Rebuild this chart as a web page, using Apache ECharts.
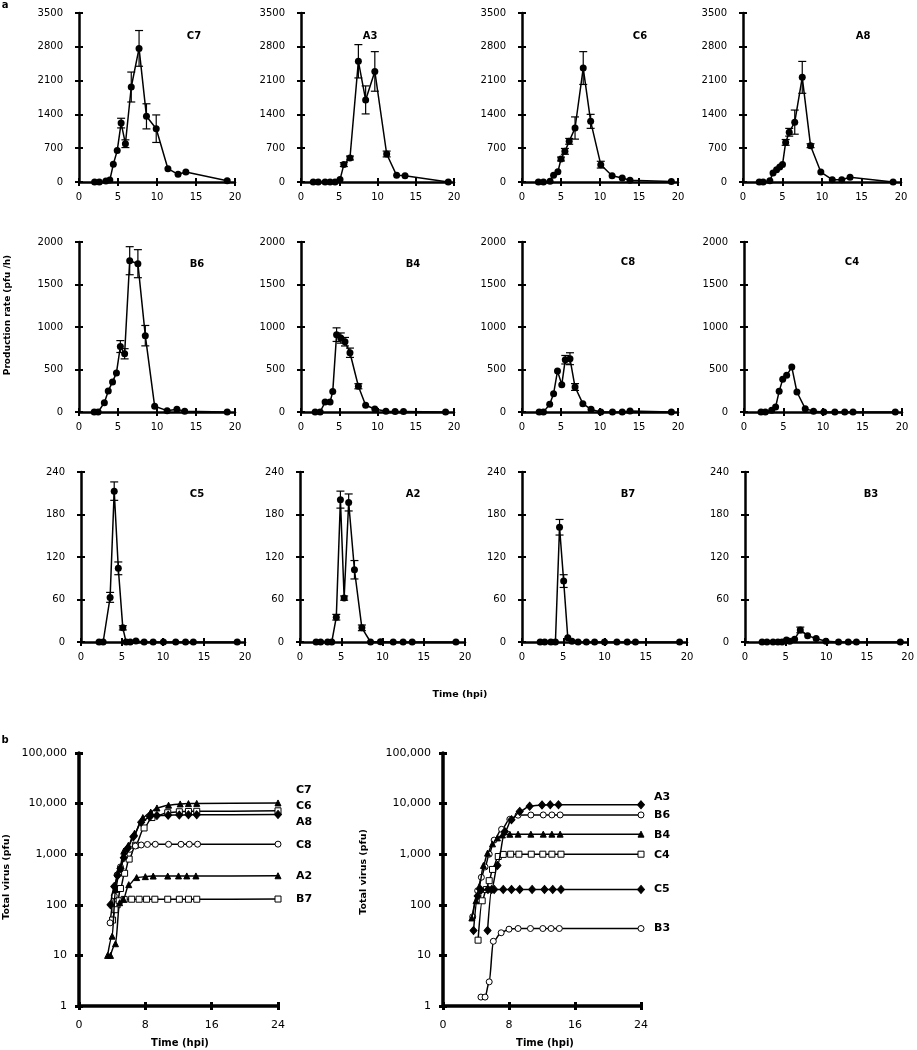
<!DOCTYPE html>
<html><head><meta charset="utf-8">
<script src="https://cdn.jsdelivr.net/npm/echarts@6/dist/echarts.min.js"></script>
<style>html,body{margin:0;padding:0;background:#fff}#c{width:917px;height:1050px}</style>
</head><body><div id="c"></div>
<script>
// ---------- Panel a: production rate (pfu/h) vs time (hpi) ----------
const C7_t = [2.0, 2.6, 3.45, 3.95, 4.4, 4.9, 5.4, 5.95, 6.7, 7.7, 8.65, 9.9, 11.4, 12.7, 13.7, 19.0];
const C7_v = [0, 0, 20, 40, 366, 650, 1220, 793, 1967, 2767, 1360, 1104, 276, 159, 207, 28];
const C7_e = [0, 0, 0, 0, 0, 0, 100, 80, 310, 370, 260, 285, 0, 0, 0, 0];

const A3_t = [1.6, 2.25, 3.15, 3.8, 4.45, 5.1, 5.6, 6.4, 7.5, 8.45, 9.65, 11.2, 12.5, 13.6, 19.25];
const A3_v = [0, 0, 0, 0, 0, 50, 360, 497, 2500, 1700, 2290, 580, 138, 131, 0];
const A3_e = [0, 0, 0, 0, 0, 0, 40, 40, 345, 290, 410, 60, 0, 0, 0];

const C6_t = [2.1, 2.75, 3.6, 4.05, 4.6, 5.0, 5.5, 6.05, 6.8, 7.85, 8.8, 10.1, 11.55, 12.85, 13.85, 19.15];
const C6_v = [0, 0, 14, 140, 210, 476, 635, 842, 1118, 2360, 1256, 359, 131, 83, 35, 10];
const C6_e = [0, 0, 0, 0, 0, 40, 60, 60, 230, 340, 145, 70, 0, 0, 0, 0];

const A8_t = [2.05, 2.55, 3.4, 3.8, 4.25, 4.65, 5.0, 5.4, 5.85, 6.55, 7.5, 8.55, 9.85, 11.3, 12.5, 13.55, 19.0];
const A8_v = [0, 0, 28, 186, 255, 310, 360, 820, 1030, 1240, 2167, 752, 207, 48, 48, 97, 0];
const A8_e = [0, 0, 0, 0, 0, 0, 0, 60, 80, 250, 330, 40, 0, 0, 0, 0, 0];

const B6_t = [1.95, 2.45, 3.25, 3.75, 4.3, 4.8, 5.3, 5.85, 6.5, 7.55, 8.5, 9.7, 11.3, 12.55, 13.55, 19.0];
const B6_v = [0, 0, 110, 248, 354, 460, 770, 685, 1780, 1745, 898, 67, 16, 31, 8, 0];
const B6_e = [0, 0, 0, 0, 0, 0, 70, 60, 165, 165, 120, 0, 0, 0, 0, 0];

const B4_t = [1.85, 2.5, 3.15, 3.8, 4.15, 4.65, 5.2, 5.75, 6.4, 7.5, 8.45, 9.65, 11.1, 12.3, 13.4, 18.9];
const B4_v = [0, 0, 117, 117, 240, 910, 870, 827, 697, 303, 79, 35, 8, 5, 5, 0];
const B4_e = [0, 0, 0, 0, 0, 80, 60, 50, 55, 30, 0, 0, 0, 0, 0, 0];

const C8_t = [2.2, 2.75, 3.55, 4.05, 4.55, 5.1, 5.55, 6.15, 6.8, 7.8, 8.85, 10.1, 11.6, 12.85, 13.85, 19.15];
const C8_v = [0, 0, 90, 216, 482, 322, 615, 627, 294, 98, 31, 0, 0, 0, 12, 0];
const C8_e = [0, 0, 0, 0, 0, 0, 50, 70, 40, 0, 0, 0, 0, 0, 0, 0];

const C4_t = [2.15, 2.7, 3.5, 4.0, 4.45, 4.9, 5.4, 6.05, 6.7, 7.75, 8.8, 10.1, 11.5, 12.75, 13.8, 19.15];
const C4_v = [0, 0, 20, 59, 243, 384, 431, 529, 235, 39, 10, 0, 0, 0, 0, 0];
const C4_e = [0, 0, 0, 0, 0, 0, 0, 0, 0, 0, 0, 0, 0, 0, 0, 0];

const C5_t = [2.2, 2.7, 3.55, 4.05, 4.55, 5.1, 5.5, 6.0, 6.7, 7.7, 8.8, 10.05, 11.55, 12.75, 13.7, 19.05];
const C5_v = [0, 0, 63, 213, 104, 20, 0, 0, 1.4, 0, 0, 0, 0, 0, 0, 0];
const C5_e = [0, 0, 7, 13, 9, 3, 0, 0, 0, 0, 0, 0, 0, 0, 0, 0];

const A2_t = [1.95, 2.5, 3.35, 3.85, 4.4, 4.9, 5.35, 5.9, 6.6, 7.5, 8.55, 9.75, 11.3, 12.5, 13.6, 18.9];
const A2_v = [0, 0, 0, 0, 35, 201, 62, 197, 102, 20, 0, 0.5, 0, 0, 0, 0];
const A2_e = [0, 0, 0, 0, 4, 12, 3, 12, 13, 4, 0, 0, 0, 0, 0, 0];

const B7_t = [2.2, 2.75, 3.5, 4.05, 4.55, 5.05, 5.55, 6.05, 6.8, 7.8, 8.8, 10.0, 11.5, 12.75, 13.75, 19.1];
const B7_v = [0, 0, 0, 0, 162, 86, 6, 1, 0, 0, 0, 0, 0, 0, 0, 0];
const B7_e = [0, 0, 0, 0, 11, 9, 0, 0, 0, 0, 0, 0, 0, 0, 0, 0];

const B3_t = [2.1, 2.7, 3.45, 4.05, 4.55, 5.1, 5.5, 6.1, 6.8, 7.7, 8.75, 9.95, 11.5, 12.7, 13.7, 19.1];
const B3_v = [0, 0, 0, 0, 0, 3, 1, 4, 17, 9, 5, 1, 0, 0, 0, 0];
const B3_e = [0, 0, 0, 0, 0, 0, 0, 0, 4, 0, 0, 0, 0, 0, 0, 0];

const yTicks1 = [0, 3500, 700];   // min, max, interval
const yTicks2 = [0, 2000, 500];
const yTicks3 = [0, 240, 60];
const xTicksA = [0, 20, 5];

// ---------- Panel b: total virus (pfu), log scale ----------
const bC7_t = [3.45, 4.0, 4.4, 4.9, 5.4, 5.95, 6.7, 7.7, 8.65, 9.4, 10.8, 12.2, 13.2, 14.2, 24];
const bC7_v = [10, 24, 200, 520, 1150, 1500, 2600, 5300, 6800, 8200, 9300, 9850, 10000, 10100, 10300];
const bC6_t = [4.05, 4.6, 5.0, 5.5, 6.05, 6.8, 7.85, 8.8, 10.7, 12.1, 13.2, 14.2, 24];
const bC6_v = [50, 100, 210, 420, 800, 1500, 3300, 5300, 6600, 6900, 7000, 7050, 7200];
const bA8_t = [3.8, 4.25, 4.65, 5.0, 5.4, 5.85, 6.55, 7.5, 8.55, 9.4, 10.75, 12.1, 13.2, 14.2, 24];
const bA8_v = [100, 230, 380, 520, 850, 1300, 2200, 4300, 5500, 5800, 5900, 5950, 6000, 6000, 6100];
const bC8_t = [3.75, 4.25, 4.6, 5.0, 5.5, 6.15, 6.8, 7.5, 8.25, 9.2, 10.8, 12.3, 13.3, 14.3, 24];
const bC8_v = [44, 150, 390, 560, 900, 1250, 1450, 1520, 1560, 1570, 1570, 1570, 1570, 1575, 1580];
const bA2_t = [3.8, 4.4, 4.9, 5.35, 6.0, 6.95, 8.0, 8.95, 10.7, 12.0, 13.0, 14.1, 24];
const bA2_v = [10, 17, 110, 130, 250, 345, 360, 370, 370, 372, 372, 372, 375];
const bB7_t = [4.35, 4.85, 5.45, 6.35, 7.25, 8.15, 9.15, 10.7, 12.1, 13.2, 14.2, 24];
const bB7_v = [80, 120, 128, 129, 129, 129, 129, 129, 129, 129, 129, 130];

const bA3_t = [5.4, 5.9, 6.6, 7.5, 8.3, 9.3, 10.5, 12.0, 13.0, 14.0, 24];
const bA3_v = [31, 200, 600, 2800, 4800, 7000, 8900, 9400, 9450, 9450, 9450];
const bB6_t = [3.6, 4.2, 4.65, 5.1, 5.6, 6.2, 7.1, 8.1, 9.1, 10.65, 12.15, 13.2, 14.2, 24];
const bB6_v = [58, 190, 350, 560, 1000, 1900, 3100, 4900, 5900, 5950, 5970, 5970, 5970, 5970];
const bB4_t = [3.5, 4.0, 4.4, 4.9, 5.4, 6.0, 6.6, 7.2, 8.1, 9.1, 10.65, 12.15, 13.2, 14.2, 24];
const bB4_v = [55, 120, 230, 600, 1050, 1600, 2100, 2400, 2480, 2490, 2490, 2490, 2490, 2490, 2490];
const bC4_t = [4.25, 4.75, 5.25, 5.6, 6.0, 6.7, 7.3, 8.2, 9.2, 10.7, 12.1, 13.2, 14.3, 24];
const bC4_v = [20, 120, 200, 300, 500, 900, 990, 1000, 1000, 1000, 1000, 1000, 1000, 1000];
const bC5_t = [3.7, 4.2, 4.6, 5.45, 6.2, 7.3, 8.3, 9.3, 10.8, 12.3, 13.3, 14.3, 24];
const bC5_v = [31, 150, 195, 200, 201, 201, 201, 201, 201, 201, 201, 201, 201];
const bB3_t = [4.6, 5.1, 5.6, 6.1, 7.05, 8.0, 9.1, 10.6, 12.1, 13.1, 14.1, 24];
const bB3_v = [1.5, 1.5, 3.0, 19, 28, 33, 34, 34, 34, 34, 34, 34];

const xTicksB = [0, 24, 8];
const yLogB = [1, 100000];

// ---------- layout ----------
const FONT = 'DejaVu Sans';
const panelsA = [
  {name:'C7', t:C7_t, v:C7_v, e:C7_e, y:yTicks1, box:[79, 13, 156, 169], lab:[194, 36]},
  {name:'A3', t:A3_t, v:A3_v, e:A3_e, y:yTicks1, box:[301, 13, 153, 169], lab:[370, 36]},
  {name:'C6', t:C6_t, v:C6_v, e:C6_e, y:yTicks1, box:[522, 13, 156, 169], lab:[640, 36]},
  {name:'A8', t:A8_t, v:A8_v, e:A8_e, y:yTicks1, box:[743, 13, 158, 169], lab:[863, 36]},
  {name:'B6', t:B6_t, v:B6_v, e:B6_e, y:yTicks2, box:[79, 242, 156, 170], lab:[197, 264]},
  {name:'B4', t:B4_t, v:B4_v, e:B4_e, y:yTicks2, box:[301, 242, 153, 170], lab:[413, 264]},
  {name:'C8', t:C8_t, v:C8_v, e:C8_e, y:yTicks2, box:[522, 242, 156, 170], lab:[628, 262]},
  {name:'C4', t:C4_t, v:C4_v, e:C4_e, y:yTicks2, box:[744, 242, 158, 170], lab:[852, 262]},
  {name:'C5', t:C5_t, v:C5_v, e:C5_e, y:yTicks3, box:[81, 472, 164, 170], lab:[197, 494]},
  {name:'A2', t:A2_t, v:A2_v, e:A2_e, y:yTicks3, box:[300, 472, 165, 170], lab:[413, 494]},
  {name:'B7', t:B7_t, v:B7_v, e:B7_e, y:yTicks3, box:[522, 472, 165, 170], lab:[628, 494]},
  {name:'B3', t:B3_t, v:B3_v, e:B3_e, y:yTicks3, box:[745, 472, 163, 170], lab:[871, 494]}
];
const panelsB = [
  {box:[79, 753, 199, 253], lx:296, series:[
    {name:'C7', t:bC7_t, v:bC7_v, sym:'triangle', fill:true, ly:790},
    {name:'C6', t:bC6_t, v:bC6_v, sym:'rect', fill:false, ly:806},
    {name:'A8', t:bA8_t, v:bA8_v, sym:'diamond', fill:true, ly:822},
    {name:'C8', t:bC8_t, v:bC8_v, sym:'circle', fill:false, ly:845},
    {name:'A2', t:bA2_t, v:bA2_v, sym:'triangle', fill:true, ly:876},
    {name:'B7', t:bB7_t, v:bB7_v, sym:'rect', fill:false, ly:899}
  ]},
  {box:[443, 753, 198, 253], lx:654, series:[
    {name:'A3', t:bA3_t, v:bA3_v, sym:'diamond', fill:true, ly:797},
    {name:'B6', t:bB6_t, v:bB6_v, sym:'circle', fill:false, ly:815},
    {name:'B4', t:bB4_t, v:bB4_v, sym:'triangle', fill:true, ly:835},
    {name:'C4', t:bC4_t, v:bC4_v, sym:'rect', fill:false, ly:855},
    {name:'C5', t:bC5_t, v:bC5_v, sym:'diamond', fill:true, ly:889},
    {name:'B3', t:bB3_t, v:bB3_v, sym:'circle', fill:false, ly:928}
  ]}
];

const grid = [], xAxis = [], yAxis = [], series = [], graphic = [];

function addAxes(gi, xcfg, ycfg, lw, tw, fs, xm, ym, logY) {
  const xBase = {gridIndex: gi, type: 'value', min: xcfg[0], max: xcfg[1], interval: xcfg[2], position: 'bottom',
    splitLine: {show: false}};
  xAxis.push(Object.assign({}, xBase, {
    axisLine: {onZero: false, lineStyle: {color: '#000', width: lw}},
    axisTick: {length: 4, lineStyle: {color: '#000', width: tw}},
    axisLabel: {color: '#000', fontSize: fs, fontFamily: FONT, margin: xm, formatter: v => String(v)}
  }));
  xAxis.push(Object.assign({}, xBase, {
    axisLine: {show: false},
    axisTick: {inside: true, length: 4, lineStyle: {color: '#000', width: tw}},
    axisLabel: {show: false}
  }));
  let yBase;
  if (logY) {
    yBase = {gridIndex: gi, type: 'log', logBase: 10, min: ycfg[0], max: ycfg[1], position: 'left',
      splitLine: {show: false}, minorTick: {show: false}};
  } else {
    yBase = {gridIndex: gi, type: 'value', min: ycfg[0], max: ycfg[1], interval: ycfg[2], position: 'left',
      splitLine: {show: false}};
  }
  yAxis.push(Object.assign({}, yBase, {
    axisLine: {onZero: false, lineStyle: {color: '#000', width: lw}},
    axisTick: {length: 4, lineStyle: {color: '#000', width: tw}},
    axisLabel: {color: '#000', fontSize: fs, fontFamily: FONT, margin: ym,
      formatter: logY ? (v => Number(v).toLocaleString('en-US')) : (v => String(v))}
  }));
  yAxis.push(Object.assign({}, yBase, {
    axisLine: {show: false},
    axisTick: {inside: true, length: 4, lineStyle: {color: '#000', width: tw}},
    axisLabel: {show: false}
  }));
}

function errRender(params, api) {
  const x = api.value(0), y = api.value(1), e = api.value(2);
  const hi = api.coord([x, y + e]), lo = api.coord([x, y - e]);
  const w = 4, st = {stroke: '#000', lineWidth: 1.2};
  return {type: 'group', children: [
    {type: 'line', shape: {x1: hi[0], y1: hi[1], x2: lo[0], y2: lo[1]}, style: st},
    {type: 'line', shape: {x1: hi[0] - w, y1: hi[1], x2: hi[0] + w, y2: hi[1]}, style: st},
    {type: 'line', shape: {x1: lo[0] - w, y1: lo[1], x2: lo[0] + w, y2: lo[1]}, style: st}
  ]};
}

panelsA.forEach((p, i) => {
  grid.push({left: p.box[0], top: p.box[1], width: p.box[2], height: p.box[3]});
  addAxes(i, xTicksA, p.y, 2.5, 2, 10, 10, 16, false);
  series.push({
    type: 'line', xAxisIndex: 2 * i, yAxisIndex: 2 * i,
    data: p.t.map((x, j) => [x, p.v[j]]),
    symbol: 'circle', symbolSize: 7, itemStyle: {color: '#000'},
    lineStyle: {color: '#000', width: 1.5}, z: 3, animation: false
  });
  series.push({
    type: 'custom', xAxisIndex: 2 * i, yAxisIndex: 2 * i,
    data: p.t.map((x, j) => [x, p.v[j], p.e[j]]).filter(d => d[2] > 0),
    encode: {x: 0, y: 1}, renderItem: errRender, z: 2, animation: false
  });
  graphic.push({type: 'text', x: p.lab[0], y: p.lab[1],
    style: {text: p.name, font: 'bold 10px "' + FONT + '"', fill: '#000', textAlign: 'center', textVerticalAlign: 'middle'}});
});

panelsB.forEach((p, k) => {
  const gi = panelsA.length + k;
  grid.push({left: p.box[0], top: p.box[1], width: p.box[2], height: p.box[3]});
  addAxes(gi, xTicksB, yLogB, 3.5, 3, 11, 14, 12, true);
  p.series.forEach(s => {
    series.push({
      type: 'line', xAxisIndex: 2 * gi, yAxisIndex: 2 * gi,
      data: s.t.map((x, j) => [x, s.v[j]]),
      symbol: s.sym, symbolSize: s.sym === 'diamond' ? [7, 8] : 6,
      itemStyle: {color: s.fill ? '#000' : '#fff', borderColor: '#000', borderWidth: 1},
      lineStyle: {color: '#000', width: 1.5},
      smooth: 0.3, smoothMonotone: 'x', z: s.fill ? 4 : 3, animation: false
    });
    graphic.push({type: 'text', x: p.lx, y: s.ly,
      style: {text: s.name, font: 'bold 11px "' + FONT + '"', fill: '#000', textAlign: 'left', textVerticalAlign: 'middle'}});
  });
});

// titles & panel letters
const boldTxt = (txt, x, y, size, rot) => ({type: 'text', x: x, y: y, rotation: rot || 0,
  style: {text: txt, font: 'bold ' + size + 'px "' + FONT + '"', fill: '#000', textAlign: 'center', textVerticalAlign: 'middle'}});
graphic.push(boldTxt('a', 5, 5, 10));
graphic.push(boldTxt('b', 5, 740, 10));
graphic.push(boldTxt('Production rate (pfu /h)', 8, 315, 9, Math.PI / 2));
graphic.push(boldTxt('Time (hpi)', 460, 695, 9.5));
graphic.push(boldTxt('Total virus (pfu)', 7, 877, 9.5, Math.PI / 2));
graphic.push(boldTxt('Total virus (pfu)', 364, 872, 9.5, Math.PI / 2));
graphic.push(boldTxt('Time (hpi)', 180, 1043, 10));
graphic.push(boldTxt('Time (hpi)', 545, 1043, 10));

const chart = echarts.init(document.getElementById('c'));
chart.setOption({animation: false, backgroundColor: '#fff', grid, xAxis, yAxis, series, graphic});
</script>
</body></html>
